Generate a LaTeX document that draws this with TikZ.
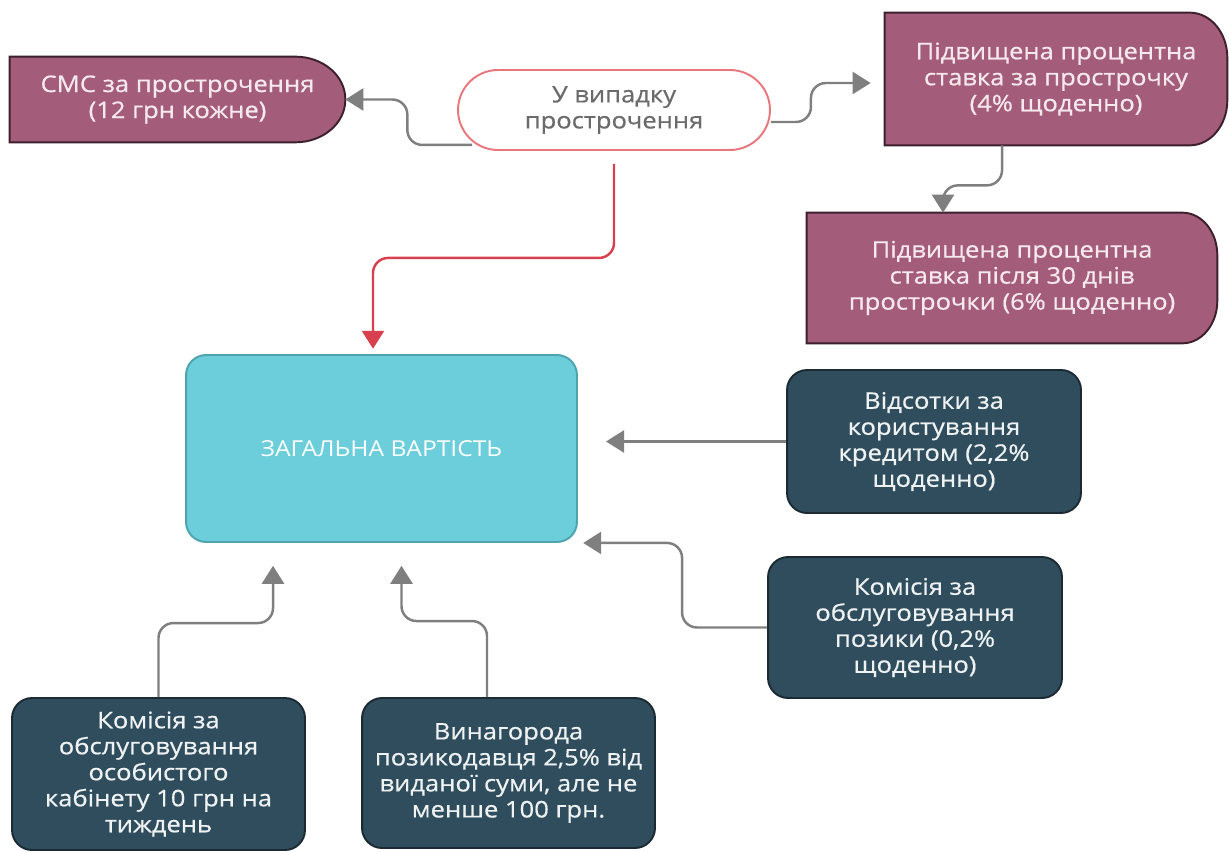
\documentclass[tikz,border=0pt]{standalone}
\usepackage{fontspec}
\setmainfont{Open Sans}[FakeStretch=1.12]
\newfontfamily\boxfont{Open Sans}[FakeStretch=1.12, FakeBold=0.6]
\usetikzlibrary{arrows.meta,calc,backgrounds}

\definecolor{mauvefill}{HTML}{A35C79}
\definecolor{mauveline}{HTML}{3D1F2D}
\definecolor{mauvetext}{HTML}{F6E9EE}
\definecolor{ovalred}{HTML}{E8767C}
\definecolor{ovaltext}{HTML}{6B6B6B}
\definecolor{tealfill}{HTML}{6CCDDB}
\definecolor{tealline}{HTML}{4FA3AF}
\definecolor{navyfill}{HTML}{2F4D5D}
\definecolor{navyline}{HTML}{1C2B33}
\definecolor{navytext}{HTML}{EEF2F3}
\definecolor{linkgray}{HTML}{7F7F7F}
\definecolor{linkred}{HTML}{D9404F}

% outline of a box with a flat left side and a rounded right end
\newcommand\delayoutline[3]{%
  \filldraw[delayline] (#1.south west) -- (#1.north west) -- ([xshift=-#2]#1.north east)
    arc[start angle=90, end angle=0, x radius=#2, y radius=#3]
    -- ([yshift=#3]#1.south east)
    arc[start angle=0, end angle=-90, x radius=#2, y radius=#3] -- cycle;}

\begin{document}
\begin{tikzpicture}[x=0.02cm, y=-0.02cm,
  txt/.style={align=center, inner sep=0pt, font=\boxfont\fontsize{13}{14.8}\selectfont},
  delay/.style={txt, text=mauvetext},
  delayline/.style={fill=mauvefill, draw=mauveline, line width=1.1pt},
  oval/.style={txt, draw=ovalred, line width=1.1pt, fill=white, rounded corners=0.8cm, text=ovaltext},
  total/.style={txt, font=\fontsize{12.5}{14.8}\selectfont, draw=tealline, line width=1.1pt, fill=tealfill, rounded corners=0.4cm, text=white},
  cost/.style={txt, draw=navyline, line width=1.1pt, fill=navyfill, rounded corners=0.4cm, text=navytext},
  link/.style={-{Triangle[length=0.36cm, width=0.44cm]}, draw=linkgray, line width=1.4pt, rounded corners=0.3cm},
  redlink/.style={link, draw=linkred}
]
\useasboundingbox (0,0) rectangle (1229,851);

\node[delay, minimum width=6.7cm, minimum height=1.7cm] (sms) at (177.5,99.5) {СМС за прострочення\\(12 грн кожне)};
\node[oval, minimum width=6.24cm, minimum height=1.6cm] (oval) at (614,110) {У випадку\\прострочення};
\node[delay, minimum width=6.84cm, minimum height=2.64cm] (rate4) at (1056,79) {Підвищена процентна\\ставка за прострочку\\(4\% щоденно)};
\node[delay, minimum width=8.2cm, minimum height=2.6cm] (rate6) at (1012,278) {Підвищена процентна\\ставка після 30 днів\\прострочки (6\% щоденно)};

\node[total, minimum width=7.82cm, minimum height=3.74cm] (total) at (381.5,448.5) {ЗАГАЛЬНА ВАРТІСТЬ};
\node[cost, minimum width=5.88cm, minimum height=2.86cm] (interest) at (934,441.5) {Відсотки за\\користування\\кредитом (2,2\%\\щоденно)};
\node[cost, minimum width=5.88cm, minimum height=2.82cm] (service) at (915,627.5) {Комісія за\\обслуговування\\позики (0,2\%\\щоденно)};
\node[cost, minimum width=5.86cm, minimum height=3.04cm] (cabinet) at (158.5,774) {Комісія за\\обслуговування\\особистого\\кабінету 10 грн на\\тиждень};
\node[cost, minimum width=5.86cm, minimum height=3.0cm] (reward) at (508.5,773) {Винагорода\\позикодавця 2,5\% від\\виданої суми, але не\\менше 100 грн.};

\begin{scope}[on background layer]
\delayoutline{sms}{1.0cm}{0.85cm}
\delayoutline{rate4}{0.75cm}{0.9cm}
\delayoutline{rate6}{0.7cm}{0.85cm}
\end{scope}

\draw[link] ([xshift=0.3cm, yshift=0.12cm]oval.south west) -| ($(sms.east)+(62,0)$) -- (sms.east);
\draw[link, shorten >=8] ([yshift=-0.24cm]oval.east) -- ++(40,0) |- ([yshift=-0.08cm]rate4.west);
\draw[link] ([xshift=-1.08cm]rate4.south) -- ++(0,40) -| ([xshift=-1.38cm]rate6.north);
\draw[redlink, shorten >=3] ([yshift=-0.26cm]oval.south) -- ++(0,94) -| ([xshift=-0.17cm]total.north);
\draw[link, shorten >=16] (interest.west) -- (total.east |- interest.west);
\draw[link, shorten >=3] (service.west) -- ++(-85,0) |- (total.south east);
\draw[link, shorten >=13] (cabinet.north) -- ++(0,-74) -| ([xshift=-2.17cm]total.south);
\draw[link, shorten >=13] ([xshift=-0.43cm]reward.north) -- ++(0,-76) -| ([xshift=0.4cm]total.south);
\end{tikzpicture}
\end{document}
